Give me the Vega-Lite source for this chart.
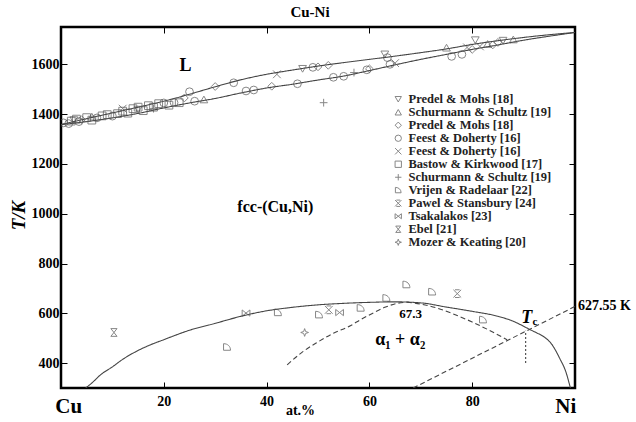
{
  "$schema": "https://vega.github.io/schema/vega-lite/v6.json",
  "width": 514,
  "height": 361,
  "autosize": "none",
  "padding": {"left": 61, "top": 27, "right": 61, "bottom": 34},
  "background": "white",
  "title": {"text": "Cu-Ni", "font": "Liberation Serif", "fontSize": 15, "fontWeight": "bold", "color": "black", "offset": 7, "dx": -8},
  "config": {
    "font": "Liberation Serif",
    "view": {"stroke": "black", "strokeWidth": 2.5},
    "axis": {"grid": false, "domain": false, "tickColor": "black", "tickWidth": 1, "labelFont": "Liberation Serif", "labelFontSize": 14, "labelFontWeight": "bold", "labelColor": "black"},
    "text": {"font": "Liberation Serif"}
  },
  "datasets": {
    "curves": [
      {"curve": "liquidus", "style": "solid", "x": 0, "T": 1358},
      {"curve": "liquidus", "style": "solid", "x": 5, "T": 1382},
      {"curve": "liquidus", "style": "solid", "x": 10, "T": 1405},
      {"curve": "liquidus", "style": "solid", "x": 15, "T": 1428},
      {"curve": "liquidus", "style": "solid", "x": 20, "T": 1452},
      {"curve": "liquidus", "style": "solid", "x": 25, "T": 1480},
      {"curve": "liquidus", "style": "solid", "x": 30, "T": 1510},
      {"curve": "liquidus", "style": "solid", "x": 35, "T": 1538},
      {"curve": "liquidus", "style": "solid", "x": 40, "T": 1560},
      {"curve": "liquidus", "style": "solid", "x": 45, "T": 1577},
      {"curve": "liquidus", "style": "solid", "x": 50, "T": 1593},
      {"curve": "liquidus", "style": "solid", "x": 55, "T": 1607},
      {"curve": "liquidus", "style": "solid", "x": 60, "T": 1620},
      {"curve": "liquidus", "style": "solid", "x": 65, "T": 1633},
      {"curve": "liquidus", "style": "solid", "x": 70, "T": 1647},
      {"curve": "liquidus", "style": "solid", "x": 75, "T": 1662},
      {"curve": "liquidus", "style": "solid", "x": 80, "T": 1680},
      {"curve": "liquidus", "style": "solid", "x": 85, "T": 1695},
      {"curve": "liquidus", "style": "solid", "x": 90, "T": 1708},
      {"curve": "liquidus", "style": "solid", "x": 95, "T": 1719},
      {"curve": "liquidus", "style": "solid", "x": 100, "T": 1728},
      {"curve": "solidus", "style": "solid", "x": 0, "T": 1358},
      {"curve": "solidus", "style": "solid", "x": 5, "T": 1370},
      {"curve": "solidus", "style": "solid", "x": 10, "T": 1385},
      {"curve": "solidus", "style": "solid", "x": 15, "T": 1403},
      {"curve": "solidus", "style": "solid", "x": 20, "T": 1425},
      {"curve": "solidus", "style": "solid", "x": 25, "T": 1445},
      {"curve": "solidus", "style": "solid", "x": 30, "T": 1463},
      {"curve": "solidus", "style": "solid", "x": 35, "T": 1485},
      {"curve": "solidus", "style": "solid", "x": 40, "T": 1505},
      {"curve": "solidus", "style": "solid", "x": 45, "T": 1520},
      {"curve": "solidus", "style": "solid", "x": 50, "T": 1537},
      {"curve": "solidus", "style": "solid", "x": 55, "T": 1553},
      {"curve": "solidus", "style": "solid", "x": 60, "T": 1575},
      {"curve": "solidus", "style": "solid", "x": 65, "T": 1598},
      {"curve": "solidus", "style": "solid", "x": 70, "T": 1620},
      {"curve": "solidus", "style": "solid", "x": 75, "T": 1640},
      {"curve": "solidus", "style": "solid", "x": 80, "T": 1660},
      {"curve": "solidus", "style": "solid", "x": 85, "T": 1678},
      {"curve": "solidus", "style": "solid", "x": 90, "T": 1697},
      {"curve": "solidus", "style": "solid", "x": 95, "T": 1713},
      {"curve": "solidus", "style": "solid", "x": 100, "T": 1728},
      {"curve": "binodal", "style": "solid", "x": 4.8, "T": 300},
      {"curve": "binodal", "style": "solid", "x": 6, "T": 320},
      {"curve": "binodal", "style": "solid", "x": 7.7, "T": 353},
      {"curve": "binodal", "style": "solid", "x": 10, "T": 385},
      {"curve": "binodal", "style": "solid", "x": 12, "T": 415},
      {"curve": "binodal", "style": "solid", "x": 14.1, "T": 441},
      {"curve": "binodal", "style": "solid", "x": 17, "T": 470},
      {"curve": "binodal", "style": "solid", "x": 20, "T": 494},
      {"curve": "binodal", "style": "solid", "x": 25, "T": 532},
      {"curve": "binodal", "style": "solid", "x": 30.4, "T": 562},
      {"curve": "binodal", "style": "solid", "x": 35, "T": 588},
      {"curve": "binodal", "style": "solid", "x": 40, "T": 610},
      {"curve": "binodal", "style": "solid", "x": 45, "T": 624},
      {"curve": "binodal", "style": "solid", "x": 50, "T": 634},
      {"curve": "binodal", "style": "solid", "x": 55, "T": 640},
      {"curve": "binodal", "style": "solid", "x": 60, "T": 644},
      {"curve": "binodal", "style": "solid", "x": 65, "T": 646},
      {"curve": "binodal", "style": "solid", "x": 70, "T": 642},
      {"curve": "binodal", "style": "solid", "x": 75, "T": 625},
      {"curve": "binodal", "style": "solid", "x": 80, "T": 608},
      {"curve": "binodal", "style": "solid", "x": 85, "T": 588},
      {"curve": "binodal", "style": "solid", "x": 88, "T": 568},
      {"curve": "binodal", "style": "solid", "x": 90, "T": 548},
      {"curve": "binodal", "style": "solid", "x": 91.3, "T": 534},
      {"curve": "binodal", "style": "solid", "x": 92.5, "T": 522},
      {"curve": "binodal", "style": "solid", "x": 94, "T": 505},
      {"curve": "binodal", "style": "solid", "x": 95.5, "T": 475},
      {"curve": "binodal", "style": "solid", "x": 97, "T": 420},
      {"curve": "binodal", "style": "solid", "x": 98.3, "T": 360},
      {"curve": "binodal", "style": "solid", "x": 99.1, "T": 300},
      {"curve": "spinodalL", "style": "dashed", "x": 44, "T": 393},
      {"curve": "spinodalL", "style": "dashed", "x": 47, "T": 445},
      {"curve": "spinodalL", "style": "dashed", "x": 50, "T": 485},
      {"curve": "spinodalL", "style": "dashed", "x": 53, "T": 520},
      {"curve": "spinodalL", "style": "dashed", "x": 56.3, "T": 550},
      {"curve": "spinodalL", "style": "dashed", "x": 58.5, "T": 577},
      {"curve": "spinodalL", "style": "dashed", "x": 60.8, "T": 602},
      {"curve": "spinodalL", "style": "dashed", "x": 63, "T": 624},
      {"curve": "spinodalL", "style": "dashed", "x": 65.4, "T": 640},
      {"curve": "spinodalL", "style": "dashed", "x": 67.3, "T": 645},
      {"curve": "spinodalR", "style": "dashed", "x": 67.3, "T": 645},
      {"curve": "spinodalR", "style": "dashed", "x": 70, "T": 637},
      {"curve": "spinodalR", "style": "dashed", "x": 73, "T": 622},
      {"curve": "spinodalR", "style": "dashed", "x": 76, "T": 600},
      {"curve": "spinodalR", "style": "dashed", "x": 80, "T": 565},
      {"curve": "spinodalR", "style": "dashed", "x": 83.5, "T": 530},
      {"curve": "spinodalR", "style": "dashed", "x": 86.8, "T": 494},
      {"curve": "tcline", "style": "dashed", "x": 68.5, "T": 300},
      {"curve": "tcline", "style": "dashed", "x": 100, "T": 627.55}
    ],
    "obs": [
      {"series": "Bastow & Kirkwood [17]", "x": 2, "T": 1372},
      {"series": "Bastow & Kirkwood [17]", "x": 3, "T": 1380},
      {"series": "Bastow & Kirkwood [17]", "x": 5, "T": 1386},
      {"series": "Bastow & Kirkwood [17]", "x": 6, "T": 1376},
      {"series": "Bastow & Kirkwood [17]", "x": 8, "T": 1393},
      {"series": "Bastow & Kirkwood [17]", "x": 9, "T": 1398},
      {"series": "Bastow & Kirkwood [17]", "x": 11, "T": 1402},
      {"series": "Bastow & Kirkwood [17]", "x": 12, "T": 1412},
      {"series": "Bastow & Kirkwood [17]", "x": 13, "T": 1404},
      {"series": "Bastow & Kirkwood [17]", "x": 14, "T": 1422},
      {"series": "Bastow & Kirkwood [17]", "x": 15, "T": 1428},
      {"series": "Bastow & Kirkwood [17]", "x": 16, "T": 1414},
      {"series": "Bastow & Kirkwood [17]", "x": 17, "T": 1434},
      {"series": "Bastow & Kirkwood [17]", "x": 18, "T": 1428},
      {"series": "Bastow & Kirkwood [17]", "x": 19, "T": 1442},
      {"series": "Bastow & Kirkwood [17]", "x": 21, "T": 1436},
      {"series": "Bastow & Kirkwood [17]", "x": 23, "T": 1446},
      {"series": "Feest & Doherty [16]|1", "x": 0.5, "T": 1365},
      {"series": "Feest & Doherty [16]|1", "x": 1.5, "T": 1362},
      {"series": "Feest & Doherty [16]|1", "x": 3.5, "T": 1370},
      {"series": "Feest & Doherty [16]|1", "x": 7, "T": 1385},
      {"series": "Feest & Doherty [16]|1", "x": 10, "T": 1392},
      {"series": "Feest & Doherty [16]|1", "x": 20, "T": 1445},
      {"series": "Feest & Doherty [16]|1", "x": 22, "T": 1446},
      {"series": "Feest & Doherty [16]|1", "x": 25, "T": 1490},
      {"series": "Feest & Doherty [16]|1", "x": 26, "T": 1452},
      {"series": "Feest & Doherty [16]|1", "x": 33.6, "T": 1526},
      {"series": "Feest & Doherty [16]|1", "x": 36, "T": 1493},
      {"series": "Feest & Doherty [16]|1", "x": 37.5, "T": 1497},
      {"series": "Feest & Doherty [16]|1", "x": 46, "T": 1522},
      {"series": "Feest & Doherty [16]|1", "x": 49, "T": 1588},
      {"series": "Feest & Doherty [16]|1", "x": 53, "T": 1548},
      {"series": "Feest & Doherty [16]|1", "x": 55, "T": 1552},
      {"series": "Feest & Doherty [16]|1", "x": 59.5, "T": 1578},
      {"series": "Feest & Doherty [16]|1", "x": 63.5, "T": 1627},
      {"series": "Feest & Doherty [16]|1", "x": 64, "T": 1600},
      {"series": "Feest & Doherty [16]|1", "x": 76, "T": 1632},
      {"series": "Feest & Doherty [16]|1", "x": 78, "T": 1640},
      {"series": "Predel & Mohs [18]|2", "x": 4, "T": 1378},
      {"series": "Predel & Mohs [18]|2", "x": 24, "T": 1465},
      {"series": "Predel & Mohs [18]|2", "x": 30, "T": 1511},
      {"series": "Predel & Mohs [18]|2", "x": 41, "T": 1512},
      {"series": "Predel & Mohs [18]|2", "x": 50, "T": 1590},
      {"series": "Predel & Mohs [18]|2", "x": 52, "T": 1596},
      {"series": "Predel & Mohs [18]|2", "x": 60, "T": 1582},
      {"series": "Predel & Mohs [18]|2", "x": 80, "T": 1660},
      {"series": "Predel & Mohs [18]|2", "x": 84, "T": 1678},
      {"series": "Predel & Mohs [18]|2", "x": 85, "T": 1688},
      {"series": "Predel & Mohs [18]|1", "x": 2.5, "T": 1376},
      {"series": "Predel & Mohs [18]|1", "x": 15, "T": 1418},
      {"series": "Predel & Mohs [18]|1", "x": 47, "T": 1582},
      {"series": "Predel & Mohs [18]|1", "x": 63, "T": 1640},
      {"series": "Predel & Mohs [18]|1", "x": 80.6, "T": 1697},
      {"series": "Predel & Mohs [18]|1", "x": 86, "T": 1695},
      {"series": "Schurmann & Schultz [19]|1", "x": 27.8, "T": 1459},
      {"series": "Schurmann & Schultz [19]|1", "x": 6, "T": 1390},
      {"series": "Schurmann & Schultz [19]|1", "x": 75, "T": 1667},
      {"series": "Schurmann & Schultz [19]|1", "x": 83, "T": 1682},
      {"series": "Schurmann & Schultz [19]|1", "x": 88, "T": 1700},
      {"series": "Feest & Doherty [16]|2", "x": 12, "T": 1422},
      {"series": "Feest & Doherty [16]|2", "x": 42, "T": 1560},
      {"series": "Feest & Doherty [16]|2", "x": 65, "T": 1605},
      {"series": "Feest & Doherty [16]|2", "x": 79, "T": 1668},
      {"series": "Feest & Doherty [16]|2", "x": 81.5, "T": 1672},
      {"series": "Schurmann & Schultz [19]|2", "x": 51.1, "T": 1446},
      {"series": "Schurmann & Schultz [19]|2", "x": 18, "T": 1422},
      {"series": "Schurmann & Schultz [19]|2", "x": 57, "T": 1567},
      {"series": "Ebel [21]", "x": 10.3, "T": 523},
      {"series": "Tsakalakos [23]", "x": 36, "T": 601},
      {"series": "Tsakalakos [23]", "x": 54.2, "T": 603},
      {"series": "Vrijen & Radelaar [22]", "x": 32.3, "T": 464},
      {"series": "Vrijen & Radelaar [22]", "x": 42.2, "T": 603},
      {"series": "Vrijen & Radelaar [22]", "x": 50.2, "T": 594},
      {"series": "Vrijen & Radelaar [22]", "x": 58.3, "T": 621},
      {"series": "Vrijen & Radelaar [22]", "x": 63.3, "T": 661},
      {"series": "Vrijen & Radelaar [22]", "x": 67.2, "T": 715},
      {"series": "Vrijen & Radelaar [22]", "x": 72.2, "T": 686},
      {"series": "Vrijen & Radelaar [22]", "x": 82.1, "T": 574},
      {"series": "Pawel & Stansbury [24]", "x": 52.1, "T": 614},
      {"series": "Pawel & Stansbury [24]", "x": 77.1, "T": 679},
      {"series": "Mozer & Keating [20]", "x": 47.4, "T": 523}
    ]
  },
  "layer": [
    {
      "data": {"name": "curves"},
      "mark": {"type": "line", "interpolate": "monotone", "color": "#444", "strokeWidth": 1.1, "clip": true},
      "encoding": {
        "x": {"field": "x", "type": "quantitative", "scale": {"domain": [0, 100], "nice": false, "zero": false},
          "axis": {"orient": "bottom", "values": [20, 40, 60, 80], "tickSize": -6, "labelPadding": 12, "title": null}},
        "y": {"field": "T", "type": "quantitative", "scale": {"domain": [300, 1750], "nice": false, "zero": false},
          "axis": {"orient": "left", "values": [400, 600, 800, 1000, 1200, 1400, 1600], "tickSize": -6, "labelPadding": 8, "format": "d",
            "title": "T/K", "titleFont": "Liberation Serif", "titleFontSize": 19, "titleFontWeight": "bold", "titleFontStyle": "italic", "titleColor": "black", "titleX": -33, "titleY": 188}},
        "detail": {"field": "curve"},
        "strokeDash": {"field": "style", "type": "nominal", "scale": {"domain": ["solid", "dashed"], "range": [[1, 0], [5, 3]]}, "legend": null}
      }
    },
    {
      "data": {"values": [{"x": 90.4, "T": 400, "T2": 530}]},
      "mark": {"type": "rule", "color": "#444", "strokeWidth": 1.1, "strokeDash": [2, 2]},
      "encoding": {
        "x": {"field": "x", "type": "quantitative", "axis": {"orient": "top", "values": [20, 40, 60, 80], "tickSize": -6, "labels": false, "title": null}},
        "y": {"field": "T", "type": "quantitative", "axis": {"orient": "right", "values": [400, 600, 800, 1000, 1200, 1400, 1600], "tickSize": -6, "labels": false, "title": null}},
        "y2": {"field": "T2"}
      }
    },
    {
      "data": {"name": "obs"},
      "mark": {"type": "point", "filled": false, "color": "#555", "strokeWidth": 1, "size": 60, "clip": true},
      "encoding": {
        "x": {"field": "x", "type": "quantitative", "axis": null},
        "y": {"field": "T", "type": "quantitative", "axis": null},
        "shape": {"field": "series", "type": "nominal",
          "scale": {
            "domain": ["Predel & Mohs [18]|1", "Schurmann & Schultz [19]|1", "Predel & Mohs [18]|2", "Feest & Doherty [16]|1", "Feest & Doherty [16]|2", "Bastow & Kirkwood [17]", "Schurmann & Schultz [19]|2", "Vrijen & Radelaar [22]", "Pawel & Stansbury [24]", "Tsakalakos [23]", "Ebel [21]", "Mozer & Keating [20]"],
            "range": ["triangle-down", "triangle-up", "diamond", "circle", "M-1,-1L1,1M-1,1L1,-1", "square", "M-1,0L1,0M0,-1L0,1", "M-0.9,0.8L-0.9,-0.9C0.2,-0.9 0.9,-0.2 0.9,0.8Z", "M-1,-1L1,1M-1,1L1,-1M-0.6,-1L0.6,-1M-0.6,1L0.6,1", "M-1,-0.8L-1,0.8L1,-0.8L1,0.8Z", "M-0.8,-1L0.8,-1L-0.8,1L0.8,1Z", "M0,-1L0.25,-0.25L1,0L0.25,0.25L0,1L-0.25,0.25L-1,0L-0.25,-0.25Z"]
          },
          "legend": {"orient": "none", "legendX": 331, "legendY": 66, "title": null, "labelFont": "Liberation Serif", "labelFontSize": 12.5, "labelFontWeight": "bold", "labelColor": "#222", "symbolSize": 40, "symbolStrokeWidth": 1, "symbolStrokeColor": "#555", "symbolFillColor": "transparent", "rowPadding": 0, "labelOffset": 4, "labelExpr": "split(datum.label, '|')[0]"}
        }
      }
    },
    {
      "data": {"values": [{"x": 24.2, "T": 1592, "text": "L"}]},
      "mark": {"type": "text", "font": "Liberation Serif", "fontSize": 18, "fontWeight": "bold", "color": "black"},
      "encoding": {"x": {"field": "x", "type": "quantitative", "axis": null}, "y": {"field": "T", "type": "quantitative", "axis": null}, "text": {"field": "text"}}
    },
    {
      "data": {"values": [{"x": 41.7, "T": 1029, "text": "fcc-(Cu,Ni)"}]},
      "mark": {"type": "text", "font": "Liberation Serif", "fontSize": 16, "fontWeight": "bold", "color": "black"},
      "encoding": {"x": {"field": "x", "type": "quantitative", "axis": null}, "y": {"field": "T", "type": "quantitative", "axis": null}, "text": {"field": "text"}}
    },
    {
      "data": {"values": [{"x": 66, "T": 494, "text": "α₁ + α₂"}]},
      "mark": {"type": "text", "font": "Liberation Serif", "fontSize": 18, "fontWeight": "bold", "color": "black"},
      "encoding": {"x": {"field": "x", "type": "quantitative", "axis": null}, "y": {"field": "T", "type": "quantitative", "axis": null}, "text": {"field": "text"}}
    },
    {
      "data": {"values": [{"x": 68, "T": 598, "text": "67.3"}]},
      "mark": {"type": "text", "font": "Liberation Serif", "fontSize": 13, "fontWeight": "bold", "color": "black"},
      "encoding": {"x": {"field": "x", "type": "quantitative", "axis": null}, "y": {"field": "T", "type": "quantitative", "axis": null}, "text": {"field": "text"}}
    },
    {
      "data": {"values": [{"x": 90.6, "T": 582, "text": "T"}]},
      "mark": {"type": "text", "font": "Liberation Serif", "fontSize": 18, "fontWeight": "bold", "fontStyle": "italic", "color": "black"},
      "encoding": {"x": {"field": "x", "type": "quantitative", "axis": null}, "y": {"field": "T", "type": "quantitative", "axis": null}, "text": {"field": "text"}}
    },
    {
      "data": {"values": [{"x": 92.2, "T": 565, "text": "c"}]},
      "mark": {"type": "text", "font": "Liberation Serif", "fontSize": 11, "fontWeight": "bold", "color": "black"},
      "encoding": {"x": {"field": "x", "type": "quantitative", "axis": null}, "y": {"field": "T", "type": "quantitative", "axis": null}, "text": {"field": "text"}}
    },
    {
      "data": {"values": [{"x": 100, "T": 630, "text": "627.55 K"}]},
      "mark": {"type": "text", "font": "Liberation Serif", "fontSize": 14, "fontWeight": "bold", "color": "black", "align": "left", "dx": 3},
      "encoding": {"x": {"field": "x", "type": "quantitative", "axis": null}, "y": {"field": "T", "type": "quantitative", "axis": null}, "text": {"field": "text"}}
    },
    {
      "data": {"values": [{"x": 1.5, "T": 300, "text": "Cu"}, {"x": 98.2, "T": 300, "text": "Ni"}]},
      "mark": {"type": "text", "font": "Liberation Serif", "fontSize": 21, "fontWeight": "bold", "color": "black", "dy": 19},
      "encoding": {"x": {"field": "x", "type": "quantitative", "axis": null}, "y": {"field": "T", "type": "quantitative", "axis": null}, "text": {"field": "text"}}
    },
    {
      "data": {"values": [{"x": 46.6, "T": 300, "text": "at.%"}]},
      "mark": {"type": "text", "font": "Liberation Serif", "fontSize": 14, "fontWeight": "bold", "color": "black", "dy": 23},
      "encoding": {"x": {"field": "x", "type": "quantitative", "axis": null}, "y": {"field": "T", "type": "quantitative", "axis": null}, "text": {"field": "text"}}
    }
  ]
}
